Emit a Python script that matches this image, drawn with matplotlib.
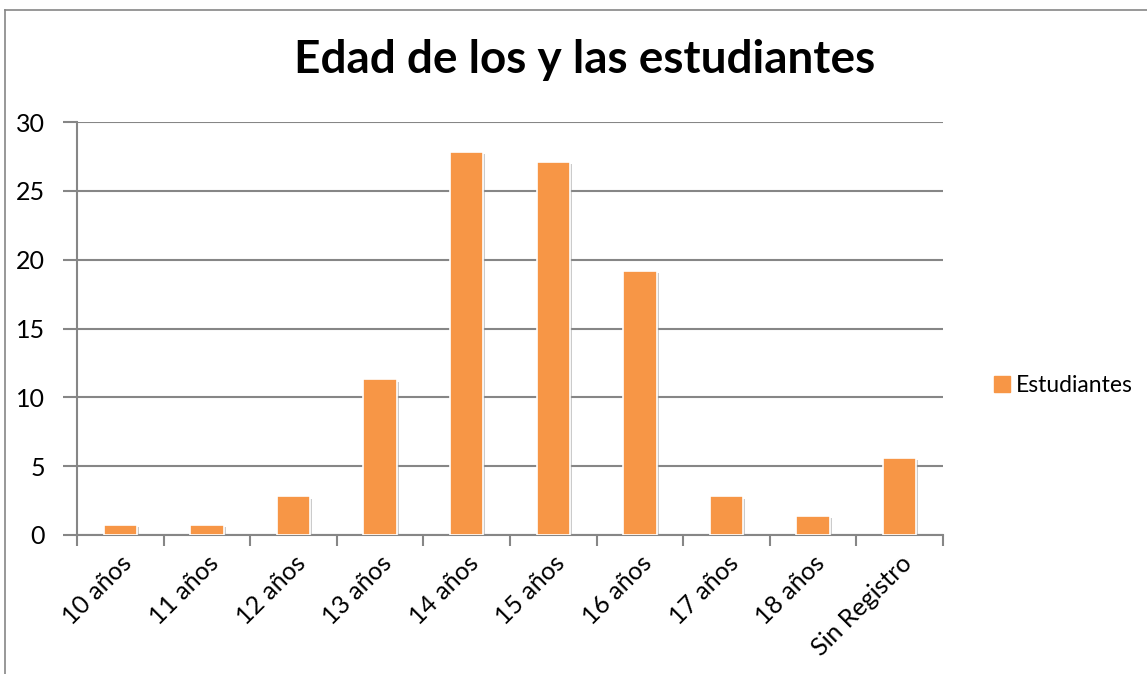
import matplotlib.pyplot as plt
import matplotlib.patheffects as pe
from matplotlib.lines import Line2D
import numpy as np

plt.rcParams['font.family'] = ['Lato', 'DejaVu Sans']

# datos (porcentaje de estudiantes por edad)
categorias = ['10 años', '11 años', '12 años', '13 años', '14 años',
              '15 años', '16 años', '17 años', '18 años', 'Sin Registro']
estudiantes = [0.7, 0.7, 2.8, 11.3, 27.8, 27.1, 19.2, 2.8, 1.4, 5.6]
y_ticks = [0, 5, 10, 15, 20, 25, 30]

naranja = '#F79646'
gris = '#868686'

fig = plt.figure(figsize=(11.47, 6.74), dpi=100)
ax = fig.add_axes([77 / 1147, 1 - 535 / 674, 866 / 1147, 413 / 674])

x = np.arange(len(categorias))
barras = ax.bar(x, estudiantes, width=0.385, color=naranja, edgecolor='white',
                linewidth=1.2, zorder=3)
for b in barras:
    b.set_path_effects([pe.SimplePatchShadow(offset=(1.5, -1.5), shadow_rgbFace='#999999',
                                             alpha=0.5), pe.Normal()])

ax.set_xlim(-0.5, len(categorias) - 0.5)
ax.set_ylim(0, 30)
ax.set_yticks(y_ticks)
ax.yaxis.grid(True, color=gris, linewidth=1.5, zorder=0)
ax.set_axisbelow(True)

for lado in ['top', 'right']:
    ax.spines[lado].set_visible(False)
ax.spines['left'].set_color(gris)
ax.spines['bottom'].set_color(gris)
ax.spines['left'].set_linewidth(1.5)
ax.spines['bottom'].set_linewidth(1.5)

ax.tick_params(axis='y', length=10, width=1.5, color=gris, pad=13, labelsize=18)

# marcas en los limites de categoria, etiquetas en el centro
ax.set_xticks(x)
ax.set_xticklabels(categorias, rotation=45, ha='right', va='top',
                   rotation_mode='anchor', fontsize=18)
ax.tick_params(axis='x', which='major', length=0, pad=12)
ax.set_xticks(np.arange(len(categorias) + 1) - 0.5, minor=True)
ax.tick_params(axis='x', which='minor', length=8, width=1.5, color=gris)

fig.text(585 / 1147, 1 - 60 / 674, 'Edad de los y las estudiantes', ha='center',
         va='center', fontsize=33, fontweight='bold')

handle = Line2D([], [], marker='s', linestyle='none', markersize=11,
                markerfacecolor=naranja, markeredgecolor=naranja)
fig.legend([handle], ['Estudiantes'], loc='center left',
           bbox_to_anchor=(970 / 1147, 1 - 386 / 674), frameon=False,
           fontsize=16.5, handletextpad=0.1, handlelength=1.0)

# borde del area del grafico
fig.add_artist(Line2D([5 / 1147, 1], [1 - 10 / 674, 1 - 10 / 674], color=gris,
                      linewidth=1.2, transform=fig.transFigure))
fig.add_artist(Line2D([5 / 1147, 5 / 1147], [0, 1 - 10 / 674], color=gris,
                      linewidth=1.2, transform=fig.transFigure))

fig.savefig('out.png', dpi=100)
